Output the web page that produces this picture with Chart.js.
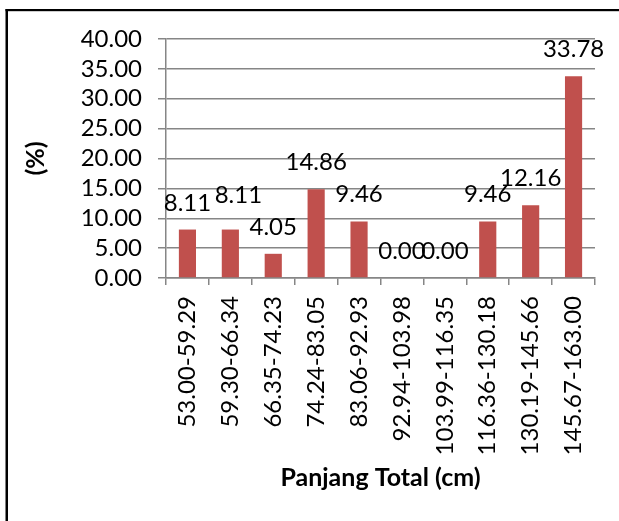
<!DOCTYPE html>
<html>
<head>
<meta charset="utf-8">
<script src="https://cdn.jsdelivr.net/npm/chart.js@4.4.1/dist/chart.umd.min.js"></script>
<style>
  html, body { margin: 0; padding: 0; background: #fff; }
  #wrap { width: 619px; height: 521px; position: relative; }
</style>
</head>
<body>
<div id="wrap"><canvas id="c" width="619" height="521"></canvas></div>
<script>
// Length classes (total length, cm) and share of each class (%)
const categories = [
  '53.00-59.29', '59.30-66.34', '66.35-74.23', '74.24-83.05', '83.06-92.93',
  '92.94-103.98', '103.99-116.35', '116.36-130.18', '130.19-145.66', '145.67-163.00'
];
const percentages = [8.11, 8.11, 4.05, 14.86, 9.46, 0.00, 0.00, 9.46, 12.16, 33.78];
const yTicks = [0, 5, 10, 15, 20, 25, 30, 35, 40];

const FONT = 'Lato, "Liberation Sans", sans-serif';
const GRID = '#868686';

// Value labels above each bar, two decimals.
// The second label is lifted a little to the right so it clears the first one.
const valueLabels = {
  id: 'valueLabels',
  afterDatasetsDraw(chart) {
    const ctx = chart.ctx;
    const meta = chart.getDatasetMeta(0);
    const nudge = { 1: { dx: 8, dy: -8 } };
    ctx.save();
    ctx.font = '24px ' + FONT;
    ctx.fillStyle = '#000';
    ctx.textAlign = 'center';
    ctx.textBaseline = 'alphabetic';
    meta.data.forEach((bar, i) => {
      const v = chart.data.datasets[0].data[i];
      const n = nudge[i] || { dx: 0, dy: 0 };
      ctx.fillText(v.toFixed(2), bar.x + n.dx, bar.y - 19 + n.dy);
    });
    ctx.restore();
  }
};

// Frame around the chart
const frame = {
  id: 'frame',
  afterDraw(chart) {
    const ctx = chart.ctx;
    ctx.save();
    ctx.fillStyle = '#000';
    ctx.fillRect(5.5, 9, 2.5, chart.height);
    ctx.fillRect(5.5, 9, chart.width, 2.2);
    ctx.restore();
  }
};

new Chart(document.getElementById('c'), {
  type: 'bar',
  data: {
    labels: categories,
    datasets: [{
      data: percentages,
      backgroundColor: '#C0504D',
      borderWidth: 0,
      barPercentage: 0.4,
      categoryPercentage: 1.0
    }]
  },
  options: {
    responsive: false,
    animation: false,
    devicePixelRatio: 1,
    layout: { padding: { left: 0, right: 24, top: 39, bottom: 0 } },
    plugins: { legend: { display: false }, tooltip: { enabled: false } },
    scales: {
      x: {
        grid: {
          display: true,
          drawOnChartArea: false,
          drawTicks: true,
          tickLength: 7,
          color: GRID,
          lineWidth: 1.5,
          offset: true
        },
        border: { color: GRID, width: 1.5 },
        ticks: {
          color: '#000',
          font: { family: FONT, size: 24 },
          minRotation: 90,
          maxRotation: 90,
          autoSkip: false,
          padding: 11
        },
        title: {
          display: true,
          text: 'Panjang Total (cm)',
          color: '#000',
          font: { family: FONT, size: 25, weight: 'bold' },
          padding: { top: 0, bottom: 28 }
        },
        afterFit(scale) { scale.height = 243; }
      },
      y: {
        min: 0,
        max: 40,
        afterBuildTicks(scale) { scale.ticks = yTicks.map(v => ({ value: v })); },
        grid: {
          color: GRID,
          lineWidth: 1.5,
          drawTicks: true,
          tickLength: 8
        },
        border: { color: GRID, width: 1.5 },
        ticks: {
          color: '#000',
          font: { family: FONT, size: 24 },
          padding: 16,
          autoSkip: false,
          callback: v => Number(v).toFixed(2)
        },
        title: {
          display: true,
          text: '(%)',
          color: '#000',
          font: { family: FONT, size: 25, weight: 'bold' },
          padding: { top: 21, bottom: 0 }
        },
        afterFit(scale) { scale.width = 166; }
      }
    }
  },
  plugins: [valueLabels, frame]
});
</script>
</body>
</html>
